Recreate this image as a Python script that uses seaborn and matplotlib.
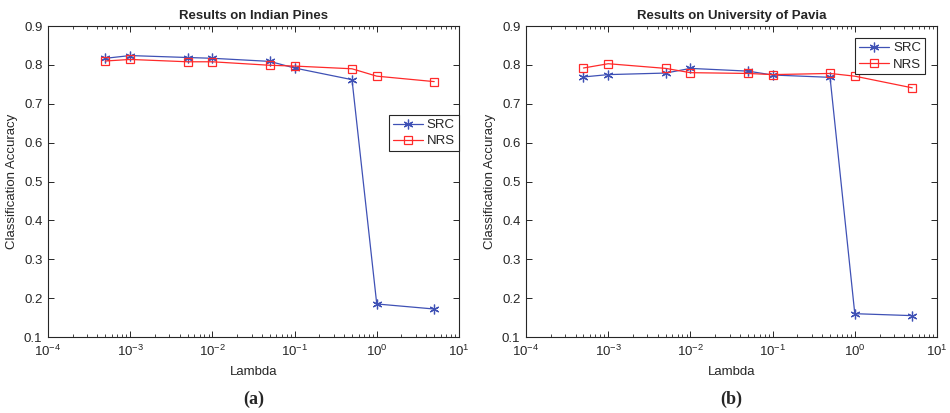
import matplotlib
matplotlib.use("Agg")
import matplotlib.pyplot as plt
import matplotlib.ticker as mticker
import seaborn as sns
import pandas as pd

# lambda 값 (두 데이터셋 공통)
lambdas = [5e-4, 1e-3, 5e-3, 1e-2, 5e-2, 1e-1, 5e-1, 1.0, 5.0]

# Indian Pines
ip_src = [0.817, 0.824, 0.819, 0.817, 0.809, 0.792, 0.762, 0.185, 0.172]
ip_nrs = [0.810, 0.814, 0.808, 0.808, 0.799, 0.797, 0.790, 0.771, 0.757]

# University of Pavia
up_src = [0.769, 0.775, 0.779, 0.791, 0.784, 0.774, 0.768, 0.160, 0.155]
up_nrs = [0.792, 0.803, 0.791, 0.780, 0.778, 0.775, 0.778, 0.771, 0.741]

titles = ["Results on Indian Pines", "Results on University of Pavia"]
captions = ["(a)", "(b)"]

SRC_COLOR = "#3f51b5"
NRS_COLOR = "#ff2a2a"

sns.set_style("ticks")
plt.rcParams["font.family"] = ["Liberation Sans", "DejaVu Sans"]
plt.rcParams["font.size"] = 9
plt.rcParams["axes.linewidth"] = 0.8
plt.rcParams["xtick.direction"] = "in"
plt.rcParams["ytick.direction"] = "in"
plt.rcParams["xtick.top"] = True
plt.rcParams["ytick.right"] = True
plt.rcParams["axes.edgecolor"] = "#262626"
plt.rcParams["xtick.color"] = "#262626"
plt.rcParams["ytick.color"] = "#262626"


def draw_panel(ax, src, nrs, title, legend_anchor):
    df = pd.DataFrame({"lambda": lambdas, "SRC": src, "NRS": nrs})
    sns.lineplot(data=df, x="lambda", y="SRC", ax=ax, color=SRC_COLOR,
                 marker=(6, 2, 0), markersize=7, markeredgewidth=0.9,
                 markeredgecolor=SRC_COLOR, linewidth=0.9, label="SRC")
    sns.lineplot(data=df, x="lambda", y="NRS", ax=ax, color=NRS_COLOR,
                 marker="s", markersize=5.5, markerfacecolor="none",
                 markeredgewidth=0.9, markeredgecolor=NRS_COLOR,
                 linewidth=0.9, label="NRS")
    ax.set_xscale("log")
    ax.set_xlim(1e-4, 1e1)
    ax.set_ylim(0.1, 0.9)
    ax.set_yticks([0.1, 0.2, 0.3, 0.4, 0.5, 0.6, 0.7, 0.8, 0.9])
    ax.yaxis.set_major_formatter(mticker.FormatStrFormatter("%g"))
    ax.xaxis.set_major_locator(mticker.LogLocator(base=10, numticks=10))
    ax.xaxis.set_minor_locator(mticker.LogLocator(base=10, subs=range(2, 10), numticks=10))
    ax.tick_params(which="major", length=4, width=0.7, labelsize=9.5, pad=4)
    ax.tick_params(axis="x", which="major", pad=5)
    ax.tick_params(which="minor", length=2.5, width=0.6)
    ax.tick_params(axis="x", which="both", top=True)
    ax.tick_params(axis="y", which="both", right=True)
    for sp in ax.spines.values():
        sp.set_visible(True)
    ax.set_xlabel("Lambda", fontsize=9.5, color="#262626", labelpad=5)
    ax.set_ylabel("Classification Accuracy", fontsize=9.5, color="#262626", labelpad=4)
    ax.set_title(title, fontsize=9.5, fontweight="bold", color="#262626", pad=5)
    leg = ax.legend(loc="upper right", bbox_to_anchor=legend_anchor, borderaxespad=0,
                    fancybox=False, framealpha=1, edgecolor="#262626",
                    fontsize=9.5, handlelength=2.3, handletextpad=0.3,
                    labelspacing=0.3, borderpad=0.3)
    leg.get_frame().set_linewidth(0.8)


fig = plt.figure(figsize=(9.5, 4.13), dpi=100)
ax1 = fig.add_axes([0.0505, 0.184, 0.4326, 0.753])
ax2 = fig.add_axes([0.5537, 0.184, 0.4326, 0.753])

draw_panel(ax1, ip_src, ip_nrs, titles[0], (1.0, 0.714))
draw_panel(ax2, up_src, up_nrs, titles[1], (0.971, 0.961))

for ax, cap in zip([ax1, ax2], captions):
    pos = ax.get_position()
    fig.text(pos.x0 + pos.width / 2, 0.012, cap, ha="center", va="bottom",
             fontsize=13, fontweight="bold", family=["Liberation Serif", "DejaVu Serif"])

fig.savefig("out.png", dpi=100)
